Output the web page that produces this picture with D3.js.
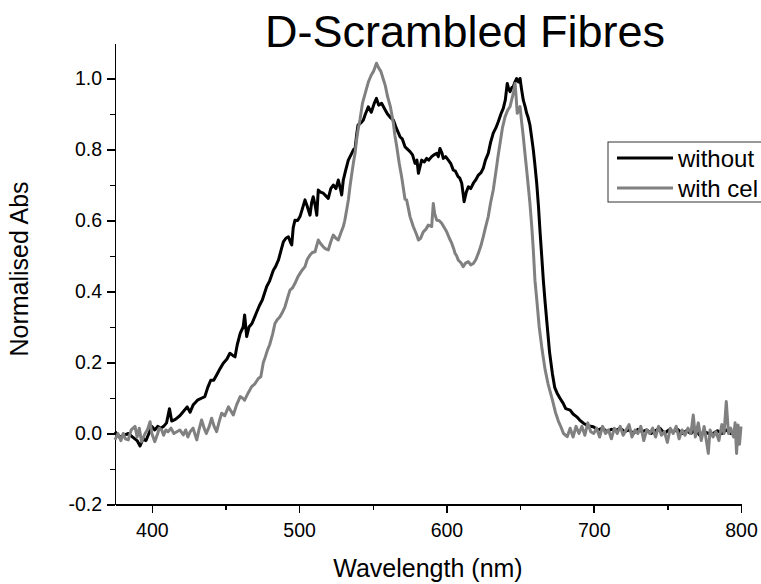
<!DOCTYPE html>
<meta charset="utf-8">
<style>

body {
  margin: 0;
  background: #fff;
}

svg {
  display: block;
  font-family: "Liberation Sans", Arial, sans-serif;
}

.axis path,
.axis line {
  fill: none;
  stroke: #000;
  stroke-width: 1.5px;
  shape-rendering: crispEdges;
}

.axis text {
  font-size: 19.5px;
  fill: #000;
}

.trace {
  fill: none;
  stroke-width: 3px;
  stroke-linejoin: round;
}

</style>
<body>
<script src="https://d3js.org/d3.v7.min.js"></script>
<script>

// Spectra (wavelength in nm, normalised absorbance)
var wlWithout = [375,378,381,384,387,390,392,394,396,398,400,402,404,406,408,410,412,413.5,416,419,421,424,426,428,431,434,436,438,440,442,444,446,448.5,451,453,455,456.5,458,460,462,463,464.4,466,468,470,471,473,475,478,480,482.5,484,486,488,489.3,491,492.7,494,495,496,497.2,499,500.6,502,504,505.5,507.4,508.5,509.6,511,512,513,514.5,516.4,518,519.8,521.5,523.2,525,526.6,528,528.9,530,531.5,533.4,535.7,537,538,539,540,542,543.6,545,547,549,551,552.5,554,556,558,560,562,564,566,568.5,570,571.9,573,575.3,577,578.7,580,581,582,583.2,585,586.6,588,590,591.5,593.4,594.5,595.6,597,597.9,599.5,601.3,603,604.7,606,608,609,610.4,611.2,612,613.5,614.9,616.5,618.3,620,621.7,623.5,625,626.5,628.4,630,631.8,633.5,635.2,637,638.6,640,641.3,642.3,643.2,644.5,645.4,646.5,647.7,649,650,651,652.2,653.5,654.5,655.5,656.7,658,659,660,661.3,662.5,663.5,664.7,665.8,667,668.5,670,671.9,673.5,675,677,679.3,681,684,686,688.5,690.5,693,696,699.7,703,706,709,712,715,718,721,724,727,730,733,736,739,742,745,748,751,754,757,760,763,766,769,772,775,778,781,784,787,790,793,796,799];
var absWithout = [0.005,-0.01,-0.005,0.0,-0.01,-0.02,-0.035,-0.015,-0.02,0.0,0.02,0.01,0.02,0.015,0.02,0.03,0.07,0.035,0.04,0.05,0.06,0.075,0.06,0.08,0.094,0.1,0.104,0.13,0.15,0.15,0.165,0.18,0.198,0.21,0.226,0.22,0.216,0.25,0.282,0.3,0.334,0.273,0.3,0.31,0.33,0.34,0.36,0.376,0.414,0.43,0.46,0.47,0.489,0.52,0.54,0.55,0.554,0.54,0.531,0.58,0.601,0.6,0.611,0.63,0.658,0.64,0.615,0.65,0.667,0.64,0.615,0.686,0.68,0.677,0.67,0.662,0.69,0.7,0.69,0.714,0.69,0.672,0.714,0.74,0.77,0.789,0.8,0.803,0.84,0.869,0.875,0.883,0.9,0.92,0.905,0.93,0.944,0.925,0.93,0.915,0.9,0.89,0.883,0.86,0.836,0.83,0.808,0.803,0.794,0.785,0.761,0.77,0.733,0.75,0.77,0.765,0.775,0.77,0.78,0.785,0.789,0.78,0.803,0.79,0.775,0.78,0.77,0.76,0.742,0.74,0.723,0.72,0.705,0.68,0.653,0.68,0.695,0.69,0.705,0.715,0.728,0.735,0.747,0.77,0.789,0.82,0.846,0.86,0.878,0.9,0.916,0.94,0.986,0.97,0.963,0.975,0.977,0.99,1.0,0.99,1.0,0.97,0.939,0.92,0.902,0.89,0.869,0.83,0.799,0.76,0.705,0.64,0.573,0.5,0.432,0.37,0.3,0.23,0.17,0.13,0.115,0.1,0.085,0.07,0.066,0.055,0.047,0.038,0.029,0.022,0.019,0.01,0.015,0.005,0.012,0.008,0.015,0.005,0.01,0.0,0.012,0.005,0.01,0.0,0.008,0.015,0.0,0.01,0.005,0.012,0.0,0.008,0.0,0.01,-0.005,0.005,0.0,0.0,0.008,0.0,0.01,0.0,0.005,0.01];

var wlWith = [375,377,379,380.6,382,384,386,388.6,390,391.5,393,395.4,397,398.8,400,402,404,405,406.7,408,409.5,411,413,415,417,419,421.4,423,424.5,426,428,430.5,432,433.8,435.5,437,439,440.6,442.3,444,445.5,447.4,449.5,452,453.5,455.3,457.5,460,461.5,463,465.5,467.8,470,472.3,474,475.7,477,478.5,480,482,483.6,485,487,488.5,490.4,492,493.8,495.5,497.2,499,500.6,502,504,505.5,507.4,509,510.8,512,513,514.5,516.4,518,519.8,521.5,523.2,525,526.6,528.3,530,531,532.3,533.5,534.5,535.7,536.8,538,539,540,541.3,543,545,547,549,550.5,552.5,554,555.5,557,558.5,560,562,564,565,566.3,568,569.6,571.9,573,575.3,577.5,579.8,581,582.5,584.3,586,587.7,589,590,591.1,592,593.4,595,596.8,598.5,600.2,602,603.6,605,605.8,607,608,610,611.4,613,614.9,616.5,618.3,620,621.7,623.5,625,626.5,628.4,630,631.8,633,634.1,635.2,636.4,638,639.8,641.5,643.2,644.3,645.4,646.6,647.3,648.1,649,650,651,652.2,653.3,654.5,655.5,656.7,658,659,660.1,661.5,663,665,667,669,672,674,676,677.7,679.5,682,684,686,688,690,692,694,696,698,700,702,704,706,708,710,712,714,716,718,720,722,724,726,728,730,732,734,736,738,740,742,744,746,748,750,752,754,756,758,760,762,764,766,767.6,769,771,773,775,777.8,779,781,783,785,787,788.5,790,791.5,793,795,796,797,798,799,800];
var absWith = [-0.018,0.0,-0.02,0.0,-0.015,-0.018,0.01,0.02,-0.01,0.015,-0.023,0.0,0.01,0.033,0.0,-0.023,0.0,0.015,0.01,-0.005,0.01,0.005,0.015,0.0,0.005,0.01,-0.004,0.01,-0.01,0.005,0.015,-0.018,0.01,0.038,0.015,0.0,0.02,0.043,0.02,0.005,0.03,0.057,0.05,0.075,0.065,0.052,0.08,0.104,0.1,0.094,0.115,0.132,0.14,0.155,0.16,0.2,0.215,0.235,0.25,0.28,0.31,0.32,0.329,0.34,0.357,0.38,0.404,0.41,0.423,0.44,0.451,0.46,0.47,0.49,0.503,0.51,0.512,0.53,0.545,0.535,0.526,0.52,0.517,0.54,0.559,0.55,0.545,0.565,0.583,0.6,0.63,0.66,0.695,0.73,0.761,0.79,0.827,0.855,0.883,0.93,0.96,0.99,1.01,1.02,1.043,1.03,1.02,1.0,0.98,0.95,0.92,0.874,0.84,0.808,0.76,0.723,0.66,0.658,0.611,0.583,0.56,0.545,0.55,0.568,0.575,0.587,0.585,0.583,0.648,0.62,0.601,0.6,0.592,0.58,0.568,0.55,0.536,0.52,0.508,0.5,0.489,0.48,0.47,0.48,0.484,0.475,0.479,0.49,0.508,0.53,0.554,0.58,0.611,0.65,0.686,0.72,0.752,0.785,0.817,0.86,0.892,0.91,0.921,0.94,0.958,0.986,0.95,0.902,0.91,0.921,0.88,0.836,0.79,0.742,0.7,0.648,0.58,0.517,0.432,0.37,0.3,0.235,0.18,0.14,0.094,0.06,0.035,0.019,0.0,-0.009,0.015,-0.01,0.02,0.0,0.02,-0.005,0.03,0.005,0.0,0.015,-0.01,0.02,0.0,0.01,-0.015,0.015,0.0,0.02,-0.005,0.01,0.025,-0.01,0.01,0.0,0.02,-0.02,0.01,0.0,0.015,-0.01,0.02,-0.005,0.005,-0.025,0.015,0.0,0.02,-0.015,0.01,-0.005,0.015,0.0,0.052,-0.01,0.03,-0.02,0.02,-0.056,0.01,-0.01,0.005,-0.02,0.025,0.0,0.09,0.0,0.015,-0.01,0.03,-0.056,0.024,-0.03,0.02];

// legend labels as far as they show before the picture's right edge
var seriesNames = ["without", "with cel"];
var seriesColors = ["#000000", "#808080"];

var xMajor = [400, 500, 600, 700, 800];
var xMinor = [450, 550, 650, 750];
var yMajor = [-0.2, 0.0, 0.2, 0.4, 0.6, 0.8, 1.0];
var yMinor = [-0.1, 0.1, 0.3, 0.5, 0.7, 0.9];

var W = 761, H = 584;
var margin = {top: 43, right: 20, bottom: 79.5, left: 115};

var svg = d3.select("body").append("svg")
            .attr("width", W)
            .attr("height", H);

var x = d3.scaleLinear()
          .domain([375, 800])
          .range([margin.left, 741]);

var y = d3.scaleLinear()
          .domain([-0.2, 1.1])
          .range([H - margin.bottom, margin.top]);

// axes: major ticks with labels, then short minor ticks
svg.append("g")
   .attr("class", "axis")
   .attr("transform", "translate(0," + y(-0.2) + ")")
   .call(d3.axisBottom(x).tickValues(xMajor).tickSize(8).tickSizeOuter(0).tickPadding(11)
           .tickFormat(function(d) { return d; }));

svg.append("g")
   .attr("class", "axis")
   .attr("transform", "translate(0," + y(-0.2) + ")")
   .call(d3.axisBottom(x).tickValues(xMinor).tickSize(5).tickSizeOuter(0).tickFormat(""))
   .select(".domain").remove();

svg.append("g")
   .attr("class", "axis")
   .attr("transform", "translate(" + x(375) + ",0)")
   .call(d3.axisLeft(y).tickValues(yMajor).tickSize(8).tickSizeOuter(0).tickPadding(5)
           .tickFormat(function(d) { return d.toFixed(1); }));

svg.append("g")
   .attr("class", "axis")
   .attr("transform", "translate(" + x(375) + ",0)")
   .call(d3.axisLeft(y).tickValues(yMinor).tickSize(5).tickSizeOuter(0).tickFormat(""))
   .select(".domain").remove();

// traces
var line = d3.line()
             .x(function(d) { return x(d[0]); })
             .y(function(d) { return y(d[1]); });

var traces = [
  d3.zip(wlWithout, absWithout),
  d3.zip(wlWith, absWith)
];

svg.selectAll(".trace")
   .data(traces)
   .enter().append("path")
     .attr("class", "trace")
     .attr("d", line)
     .style("stroke", function(d, i) { return seriesColors[i]; });

// titles
svg.append("text")
   .attr("x", 465)
   .attr("y", 47)
   .style("text-anchor", "middle")
   .style("font-size", "45px")
   .text("D-Scrambled Fibres");

svg.append("text")
   .attr("x", 428)
   .attr("y", 577)
   .style("text-anchor", "middle")
   .style("font-size", "25px")
   .text("Wavelength (nm)");

svg.append("text")
   .attr("transform", "translate(28,269) rotate(-90)")
   .style("text-anchor", "middle")
   .style("font-size", "25px")
   .text("Normalised Abs");

// legend box runs off the right edge like the original
var legend = svg.append("g")
                .attr("transform", "translate(608,142)");

legend.append("rect")
      .attr("width", 170)
      .attr("height", 60)
      .style("fill", "#fff")
      .style("stroke", "#333")
      .style("stroke-width", 1);

var item = legend.selectAll(".item")
                 .data(seriesNames)
                 .enter().append("g")
                 .attr("class", "item")
                 .attr("transform", function(d, i) { return "translate(0," + (16 + i * 30) + ")"; });

item.append("line")
    .attr("x1", 9)
    .attr("x2", 65)
    .style("stroke", function(d, i) { return seriesColors[i]; })
    .style("stroke-width", 3);

item.append("text")
    .attr("x", 70)
    .attr("dy", "0.36em")
    .style("font-size", "24px")
    .text(function(d) { return d; });

</script>
